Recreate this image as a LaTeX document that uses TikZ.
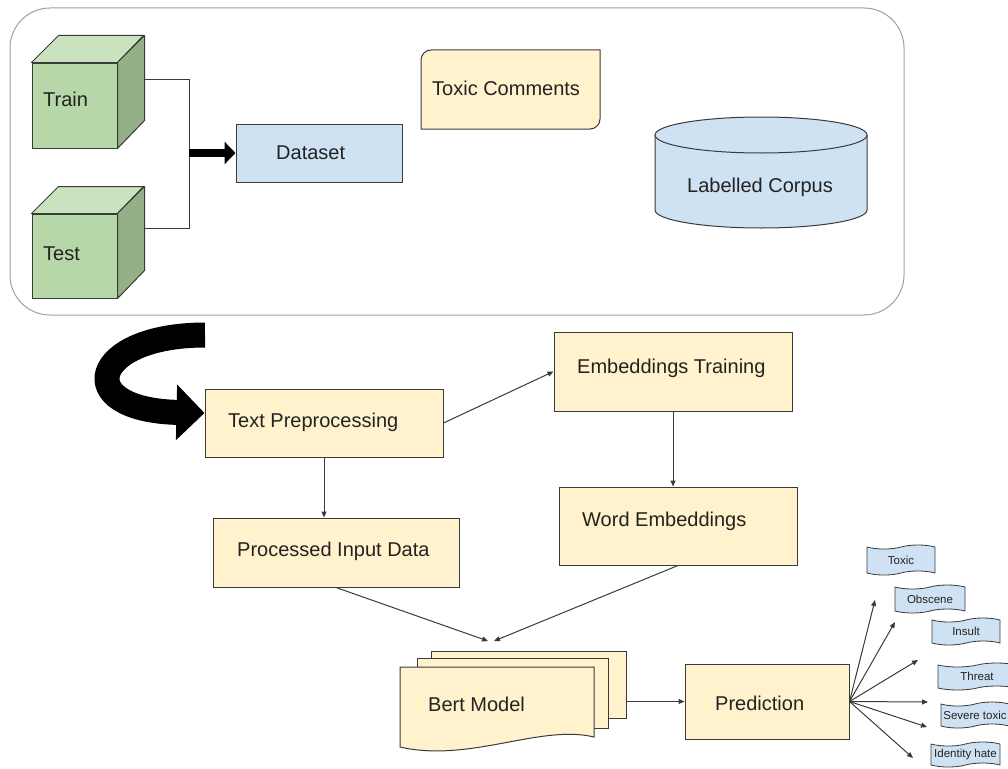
\documentclass[tikz,border=0pt]{standalone}
\usepackage{fontspec}
\setmainfont{Liberation Sans}
\usetikzlibrary{arrows.meta,shapes.symbols,calc}
\definecolor{ylw}{HTML}{FFF2CC}
\definecolor{blu}{HTML}{CFE2F3}
\definecolor{grf}{HTML}{B6D7A8}
\definecolor{grt}{HTML}{CAE2BE}
\definecolor{grs}{HTML}{93B087}
\definecolor{edge}{HTML}{3A3A3A}
\definecolor{txt}{HTML}{222222}
\definecolor{frame}{HTML}{A0A0A0}
\tikzset{
  box/.style={draw=edge, line width=1pt, fill=ylw, inner sep=0pt},
  bbox/.style={draw=edge, line width=1pt, fill=blu, inner sep=0pt},
  lbl/.style={anchor=base west, inner sep=0pt, text=txt, font=\fontsize{20}{24}\selectfont},
  conn/.style={draw=edge, line width=1pt, -{Triangle[length=6pt,width=5pt]}},
  flag/.style={tape, draw=edge, line width=0.8pt, fill=blu, inner sep=0pt, text=txt,
    tape bend top=in and out, tape bend bottom=in and out, tape bend height=4pt,
    font=\fontsize{11.5}{13}\selectfont},
  cubefront/.style={draw=edge, line width=1pt, fill=grf, inner sep=0pt},
  cubeface/.style={draw=edge, line width=1pt, line join=round}
}
\begin{document}
\begin{tikzpicture}[x=1pt,y=-1pt]
\useasboundingbox (0,0) rectangle (1008,768);
\clip (0,0) rectangle (1008,768);

% outer frame
\draw[frame, line width=1pt, rounded corners=40pt] (10,8) rectangle (904,315);

% cubes
\node[cubefront, minimum width=85pt, minimum height=85pt] (train) at (74.5,105.5) {};
\draw[cubeface, fill=grt] (train.north west) -- ++(27,-27) -- ++(85,0) -- (train.north east) -- cycle;
\draw[cubeface, fill=grs] (train.north east) -- ++(27,-27) -- ++(0,85) -- (train.south east) -- cycle;
\node[lbl] (trainlbl) at (43,106) {Train};

\node[cubefront, minimum width=85pt, minimum height=84pt] (test) at (74.5,256) {};
\draw[cubeface, fill=grt] (test.north west) -- ++(27,-27) -- ++(85,0) -- (test.north east) -- cycle;
\draw[cubeface, fill=grs] (test.north east) -- ++(27,-27) -- ++(0,84) -- (test.south east) -- cycle;
\node[lbl] (testlbl) at (43,260) {Test};

% bracket connector
\coordinate (trainout) at (144,79);
\coordinate (testout) at (144,228);
\coordinate (junction) at (189,153);
\draw[edge, line width=1pt] (trainout) -- (trainout -| junction) -- (testout -| junction) -- (testout);

% dataset
\node[bbox, minimum width=166pt, minimum height=58pt] (dataset) at (319,153) {};
\node[lbl] (datasetlbl) at (276,159) {Dataset};
\draw[line width=8.5pt, -{Triangle[length=11pt,width=22pt]}] (junction) -- (dataset.west);

% toxic comments
\coordinate (tc) at (510.5,89.5);
\draw[edge, line width=1pt, fill=ylw] (421,129) -- (421,60) arc (180:270:10) -- (600,50) -- (600,119) arc (0:90:10) -- cycle;
\node[lbl] (toxiccomments) at (432,95) {Toxic Comments};

% labelled corpus cylinder
\fill[blu] (655,135) -- (655,210) arc (180:0:106 and 18) -- (867,135) arc (360:180:106 and 18) -- cycle;
\draw[edge, line width=1pt] (655,135) -- (655,210) arc (180:0:106 and 18) -- (867,135);
\draw[edge, line width=1pt, fill=blu] (761,135) ellipse (106 and 18);
\node[lbl] (corpus) at (687,192) {Labelled Corpus};

% main boxes
\node[box, minimum width=238pt, minimum height=68pt] (tp) at (324,423) {};
\node[lbl] (tplbl) at (228,427) {Text Preprocessing};
\node[box, minimum width=238pt, minimum height=79pt] (et) at (673,371.5) {};
\node[lbl] (etlbl) at (577,373) {Embeddings Training};
\node[box, minimum width=238pt, minimum height=78pt] (we) at (678,526) {};
\node[lbl] (welbl) at (582,526) {Word Embeddings};
\node[box, minimum width=246pt, minimum height=69pt] (pid) at (336,552.5) {};
\node[lbl] (pidlbl) at (237,556) {Processed Input Data};

% curved thick arrow
\coordinate (cstart) at (205,335);
\draw[line width=25pt, -{Triangle[length=28pt,width=54pt]}] (cstart) .. controls (90,335) and (70,410) .. ($(tp.west)+(0,-10)$);

% bert model (multi document)
\node[box, minimum width=195pt, minimum height=67pt] (bert3) at (528.5,684.5) {};
\node[box, minimum width=191pt, minimum height=70pt] (bert2) at (512.5,693) {};
\draw[edge, line width=1pt, fill=ylw] (400,667) -- (594,667) -- (594,737) .. controls (540,724) and (470,763) .. (400,747) -- cycle;
\node[lbl] (bert) at (428,711) {Bert Model};

% prediction
\node[box, minimum width=164pt, minimum height=75pt] (pred) at (767,701.5) {};
\node[lbl] (predlbl) at (715,710) {Prediction};

% connectors
\draw[conn] (tp.east) -- (et.west);
\draw[conn] (tp.south) -- (tp.south |- pid.north);
\draw[conn] (et.south) -- (et.south |- we.north);
\coordinate (bin1) at (488,641);
\coordinate (bin2) at (494,641);
\draw[conn] (pid.south) -- (bin1);
\draw[conn] (we.south) -- (bin2);
\draw[conn] (bert3.east |- pred.west) -- (pred.west);

% outputs
\node[flag, minimum width=68pt, minimum height=30pt] (ftoxic) at (901,560) {Toxic};
\node[flag, minimum width=70pt, minimum height=28pt] (fobscene) at (930,599) {Obscene};
\node[flag, minimum width=68pt, minimum height=27pt] (finsult) at (966,631.5) {Insult};
\node[flag, minimum width=78pt, minimum height=27pt] (fthreat) at (977,676.5) {Threat};
\node[flag, minimum width=68pt, minimum height=26pt] (fsevere) at (975,715) {Severe toxic};
\node[flag, minimum width=69pt, minimum height=25pt] (fidentity) at (965.5,754.5) {Identity hate};

\coordinate (o1) at (875,600);
\coordinate (o2) at (895,622);
\coordinate (o3) at (918,660);
\coordinate (o4) at (928,702);
\coordinate (o5) at (927,727);
\coordinate (o6) at (913,758);
\foreach \o in {o1,o2,o3,o4,o5,o6}
  \draw[conn] (pred.east) -- (\o);
\end{tikzpicture}
\end{document}
